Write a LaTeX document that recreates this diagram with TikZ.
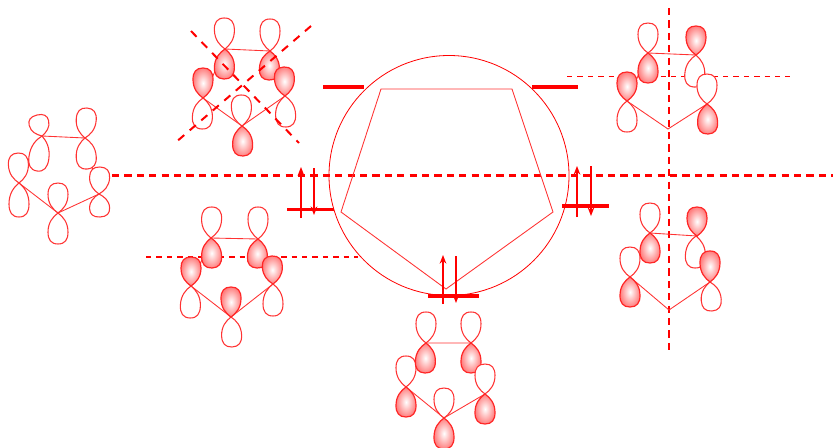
\documentclass[tikz,border=0pt]{standalone}
\usepackage{tikz}
\usetikzlibrary{arrows.meta}
\tikzset{
    ringline/.style={red!80!white, line width=0.65pt},
    emptylobe/.style={draw=red!80!white, line width=0.8pt, fill=white},
    filllobe/.style={draw=red!85!white, line width=0.9pt, shade, shading=radial, inner color=white, middle color=red!10!white, outer color=red!50!white},
    planeline/.style={red, line width=1.8pt, dash pattern=on 5.4pt off 3.9pt},
    crossline/.style={red, line width=1.5pt, dash pattern=on 6pt off 5.4pt},
    thinplane/.style={red, line width=1pt, dash pattern=on 4pt off 3.8pt},
    level/.style={red, line width=2.6pt},
    spin/.style={draw=red, line width=0.9pt, -{Stealth[length=6.5pt,width=5pt,fill=red]}}
}
\newcommand{\lobe}[5][emptylobe]{%
    \pgfmathsetmacro{\lobeang}{atan2(#3-#5,#4-#2)}%
    \pgfmathsetmacro{\lobelen}{veclen(#4-#2,#5-#3)}%
    \path[#1,shift={(#2,#3)},rotate=\lobeang] (0,0)
        .. controls (.12*\lobelen,5) and (.3*\lobelen,10) .. (.62*\lobelen,10)
        .. controls (.86*\lobelen,10) and (\lobelen,7) .. (\lobelen,0)
        .. controls (\lobelen,-7) and (.86*\lobelen,-10) .. (.62*\lobelen,-10)
        .. controls (.3*\lobelen,-10) and (.12*\lobelen,-5) .. (0,0) -- cycle;
}

\begin{document}
\begin{tikzpicture}[x=0.75pt,y=-0.75pt]
    \useasboundingbox (0,0) rectangle (833,447);
    \draw[planeline] (112,175.5) -- (833,175.5);
    \draw[thinplane] (146,257) -- (358,257);
    \draw[thinplane] (567,76.5) -- (790,76.5);
    \draw[planeline] (669,8) -- (669,350);

    \draw[red, line width=0.6pt] (449,175.5) circle [radius=120];
    \draw[ringline] (381,89) -- (512,89) -- (553,212) -- (446,289) -- (341,212) -- cycle;
    \draw[level] (323,87) -- (364,87);
    \draw[level] (532,87) -- (578,87);
    \draw[level] (287,209.5) -- (334,209.5);
    \draw[level] (562,206) -- (609,206);
    \draw[level] (428,296) -- (479,296);
    \draw[spin] (301,218) -- (301,167);
    \draw[spin] (314,168) -- (314,215);
    \draw[spin] (577,217) -- (577,166);
    \draw[spin] (591,166) -- (591,216);
    \draw[spin] (443,304) -- (443,255);
    \draw[spin] (456,256) -- (456,303);

    \draw[ringline] (42,136) -- (85,138) -- (99,194) -- (58,213) -- (19,183) -- cycle;
    \lobe{42}{136}{37}{115}
    \lobe{85}{138}{87}{108}
    \lobe{19}{183}{18}{153}
    \lobe{19}{183}{19}{217}
    \lobe{42}{136}{37}{171}
    \lobe{85}{138}{87}{169}
    \lobe{58}{213}{58}{183}
    \lobe{58}{213}{58}{244}
    \lobe{99}{194}{100}{217}
    \lobe{99}{194}{100}{167}

    \draw[ringline] (225,49) -- (270,51) -- (285,96) -- (242,126) -- (203,98) -- cycle;
    \lobe{225}{49}{224}{18}
    \lobe{270}{51}{270}{19}
    \lobe{203}{98}{202}{129}
    \lobe{285}{96}{286}{127}
    \lobe{242}{126}{241}{95}
    \lobe[filllobe]{225}{49}{224}{79}
    \lobe[filllobe]{270}{51}{269}{80}
    \lobe[filllobe]{203}{98}{203}{68}
    \lobe[filllobe]{285}{96}{284}{67}
    \lobe[filllobe]{242}{126}{243}{156}
    \draw[crossline] (191,31) -- (299,143);
    \draw[crossline] (311,26) -- (175,143);

    \draw[ringline] (211,238) -- (258,239) -- (273,284) -- (231,317) -- (191,286) -- cycle;
    \lobe{211}{238}{212}{207}
    \lobe{258}{239}{258}{207}
    \lobe{191}{286}{190}{318}
    \lobe{273}{284}{273}{316}
    \lobe{231}{317}{232}{347}
    \lobe[filllobe]{211}{238}{212}{268}
    \lobe[filllobe]{258}{239}{257}{268}
    \lobe[filllobe]{191}{286}{191}{257}
    \lobe[filllobe]{273}{284}{272}{256}
    \lobe[filllobe]{231}{317}{231}{287}

    \draw[ringline] (426,343) -- (471,343) -- (485,394) -- (444,418) -- (406,387) -- cycle;
    \lobe{426}{343}{426}{312}
    \lobe{471}{343}{471}{312}
    \lobe{406}{387}{406}{356}
    \lobe{444}{418}{444}{388}
    \lobe[filllobe]{426}{343}{425}{373}
    \lobe[filllobe]{471}{343}{471}{373}
    \lobe{485}{394}{485}{364}
    \lobe[filllobe]{406}{387}{406}{417}
    \lobe[filllobe]{485}{394}{485}{424}
    \lobe[filllobe]{444}{418}{444}{449}

    \draw[ringline] (648,53) -- (696,55) -- (707,104) -- (668,129) -- (627,101) -- cycle;
    \lobe{648}{53}{648}{23}
    \lobe{627}{101}{627}{132}
    \lobe{696}{55}{694}{87}
    \lobe{707}{104}{707}{74}
    \lobe[filllobe]{648}{53}{648}{83}
    \lobe[filllobe]{696}{55}{696}{26}
    \lobe[filllobe]{627}{101}{627}{72}
    \lobe[filllobe]{707}{104}{708}{134}

    \draw[ringline] (650,233) -- (697,236) -- (710,282) -- (669,310) -- (630,277) -- cycle;
    \lobe{650}{233}{650}{203}
    \lobe{630}{277}{630}{247}
    \lobe{696}{236}{695}{268}
    \lobe{710}{282}{712}{311}
    \lobe[filllobe]{650}{233}{650}{263}
    \lobe[filllobe]{697}{236}{697}{207}
    \lobe[filllobe]{630}{277}{630}{307}
    \lobe[filllobe]{710}{282}{710}{251}
\end{tikzpicture}
\end{document}
